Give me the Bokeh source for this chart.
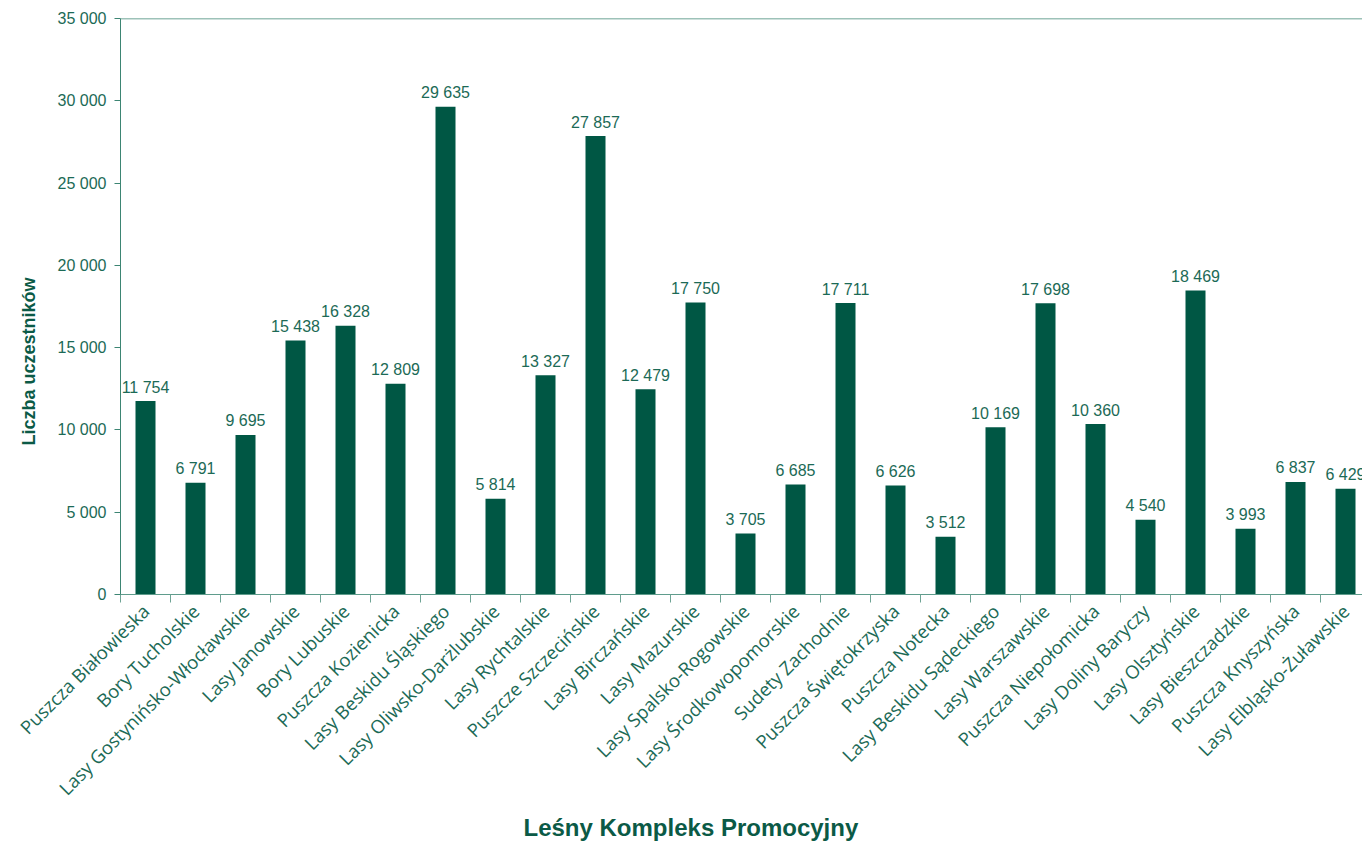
import numpy as np
from bokeh.plotting import figure
from bokeh.models import (Range1d, FixedTicker, ColumnDataSource, Span, Title, LinearAxis)
from bokeh.core.properties import value
from bokeh.embed import file_html
from bokeh.resources import INLINE

categories = [
    "Puszcza Białowieska", "Bory Tucholskie", "Lasy Gostynińsko-Włocławskie",
    "Lasy Janowskie", "Bory Lubuskie", "Puszcza Kozienicka", "Lasy Beskidu Śląskiego",
    "Lasy Oliwsko-Darżlubskie", "Lasy Rychtalskie", "Puszcze Szczecińskie",
    "Lasy Birczańskie", "Lasy Mazurskie", "Lasy Spalsko-Rogowskie",
    "Lasy Środkowopomorskie", "Sudety Zachodnie", "Puszcza Świętokrzyska",
    "Puszcza Notecka", "Lasy Beskidu Sądeckiego", "Lasy Warszawskie",
    "Puszcza Niepołomicka", "Lasy Doliny Baryczy", "Lasy Olsztyńskie",
    "Lasy Bieszczadzkie", "Puszcza Knyszyńska", "Lasy Elbląsko-Żuławskie",
]
participants = [
    11754, 6791, 9695, 15438, 16328, 12809, 29635, 5814, 13327, 27857,
    12479, 17750, 3705, 6685, 17711, 6626, 3512, 10169, 17698, 10360,
    4540, 18469, 3993, 6837, 6429,
]
y_ticks = [0, 5000, 10000, 15000, 20000, 25000, 30000, 35000]
x_title = "Leśny Kompleks Promocyjny"
y_title = "Liczba uczestników"

BAR = "#005744"
TXT = "#1c6a56"
AXIS = "#3d8573"

def fmt(v):
    return f"{v:,}".replace(",", " ")

n = len(categories)
xs = np.arange(n) + 0.5
src = ColumnDataSource(dict(x=xs, y=participants, lab=[fmt(v) for v in participants]))

p = figure(width=1362, height=842, output_backend="svg", toolbar_location=None,
           x_range=Range1d(0, n - 0.16), y_range=Range1d(0, 35000),
           min_border_left=120, min_border_right=0, min_border_top=18,
           min_border_bottom=248, x_axis_type=None, y_axis_type=None)
p.outline_line_color = None
p.xgrid.visible = False
p.ygrid.visible = False
p.background_fill_color = "white"
p.border_fill_color = "white"

p.vbar(x="x", top="y", width=0.4, source=src, fill_color=BAR, line_color=None)
p.text(x="x", y="y", text="lab", source=src, text_align="center",
       text_baseline="alphabetic", y_offset=-14, text_color=TXT,
       text_font=value("Liberation Sans"), text_font_size="16px")

# y axis
yax = LinearAxis(ticker=FixedTicker(ticks=y_ticks))
yax.major_label_overrides = {t: fmt(t) for t in y_ticks}
yax.major_label_text_font = "Liberation Sans"
yax.major_label_text_font_size = "16px"
yax.major_label_text_color = TXT
yax.axis_line_color = AXIS
yax.major_tick_line_color = AXIS
yax.major_tick_out = 6
yax.major_tick_in = 0
yax.minor_tick_line_color = None
yax.major_label_standoff = 8
p.add_layout(yax, "left")

# x axis: labels at centres, ticks at boundaries
xax = LinearAxis(ticker=FixedTicker(ticks=list(xs), minor_ticks=list(range(n + 1))))
xax.major_label_overrides = {float(x): c for x, c in zip(xs, categories)}
xax.major_label_orientation = np.pi / 4
xax.major_label_text_font = "Open Sans"
xax.major_label_text_font_size = "18.5px"
xax.major_label_text_color = TXT
xax.major_tick_line_color = None
xax.major_tick_out = 0
xax.major_tick_in = 0
xax.minor_tick_line_color = "#6ea394"
xax.minor_tick_out = 8
xax.minor_tick_in = 0
xax.axis_line_color = "#5f9c8c"
xax.major_label_standoff = 5
p.add_layout(xax, "below")

p.add_layout(Span(location=35000, dimension="width", line_color=AXIS, line_width=1.5))

xt = Title(text=x_title, align="left", offset=403, text_font="Liberation Sans",
           text_font_size="24px", text_font_style="bold", text_color="#0b5a46", standoff=0)
p.add_layout(xt, "below")
yt = Title(text=y_title, align="left", offset=149, text_font="Liberation Sans",
           text_font_size="18px", text_font_style="bold", text_color="#0b5a46",
           standoff=31)
p.add_layout(yt, "left")

open("out.html", "w").write(file_html(p, INLINE))
